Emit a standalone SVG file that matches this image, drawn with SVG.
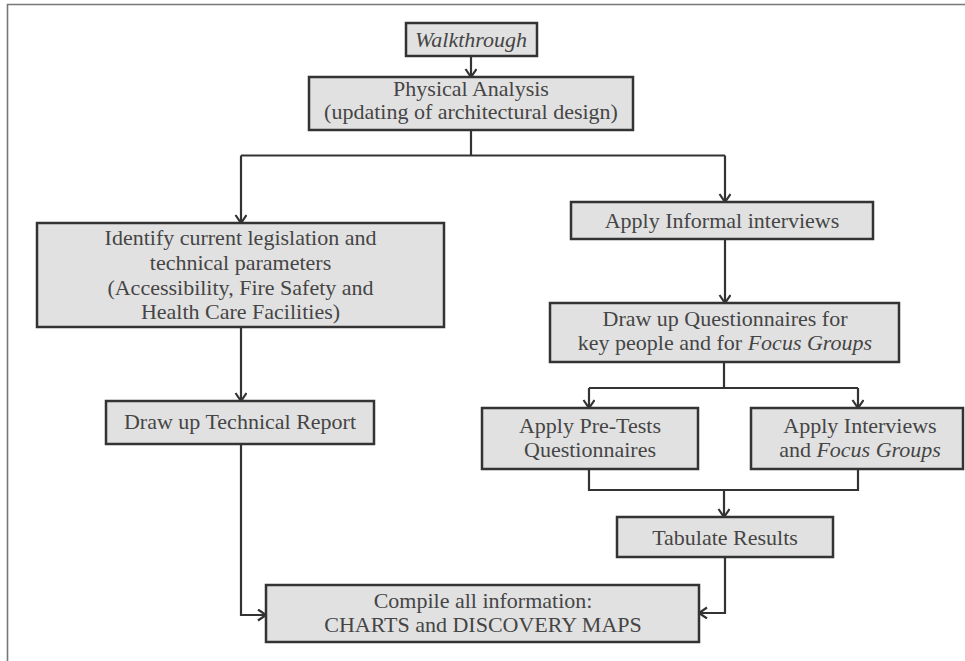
<svg xmlns="http://www.w3.org/2000/svg" width="965" height="661" viewBox="0 0 965 661">
<style>
.box{fill:#e1e1e1;stroke:#333;stroke-width:2.5}
.t{font-family:"Liberation Serif","Times New Roman",serif;font-size:22px;fill:#454545;text-anchor:middle}
.i{font-style:italic}
.c{fill:none;stroke:#333;stroke-width:2.2}
.frame{fill:none;stroke:#777;stroke-width:1.6}
</style>
<defs>
<marker id="ah" markerUnits="userSpaceOnUse" markerWidth="14" markerHeight="14" refX="10" refY="6" orient="auto">
<path d="M2,0.5 L10,6 L2,11.5" fill="none" stroke="#333" stroke-width="2.2"/>
</marker>
</defs>
<rect width="965" height="661" fill="#fff"/>
<path class="frame" d="M7.5,661 V4.5 H965"/>

<g id="connectors">
<path class="c" d="M471,56 V77" marker-end="url(#ah)"/>
<path class="c" d="M471,130 V155.5"/>
<path class="c" d="M241,155.5 H725"/>
<path class="c" d="M241,155.5 V223" marker-end="url(#ah)"/>
<path class="c" d="M725,155.5 V202" marker-end="url(#ah)"/>
<path class="c" d="M241,327 V401" marker-end="url(#ah)"/>
<path class="c" d="M241,444 V615 H266" marker-end="url(#ah)"/>
<path class="c" d="M725,239 V303" marker-end="url(#ah)"/>
<path class="c" d="M724,362 V388"/>
<path class="c" d="M589,388 H858"/>
<path class="c" d="M589,388 V408" marker-end="url(#ah)"/>
<path class="c" d="M858,388 V408" marker-end="url(#ah)"/>
<path class="c" d="M589,469 V490 H858 V469"/>
<path class="c" d="M724,490 V517" marker-end="url(#ah)"/>
<path class="c" d="M725,557 V613 H699" marker-end="url(#ah)"/>
</g>

<g id="walkthrough">
<rect class="box" x="406" y="23" width="131" height="33"/>
<text class="t i" x="471" y="47">Walkthrough</text>
</g>

<g id="physical">
<rect class="box" x="309" y="77" width="324" height="53"/>
<text class="t" x="471" y="96">Physical Analysis</text>
<text class="t" x="471" y="119">(updating of architectural design)</text>
</g>

<g id="identify">
<rect class="box" x="37" y="223" width="407" height="104"/>
<text class="t" x="240.5" y="245">Identify current legislation and</text>
<text class="t" x="240.5" y="270">technical parameters</text>
<text class="t" x="240.5" y="295">(Accessibility, Fire Safety and</text>
<text class="t" x="240.5" y="319">Health Care Facilities)</text>
</g>

<g id="techreport">
<rect class="box" x="106" y="401" width="268" height="43"/>
<text class="t" x="240" y="429">Draw up Technical Report</text>
</g>

<g id="informal">
<rect class="box" x="571" y="202" width="302" height="37"/>
<text class="t" x="722" y="228">Apply Informal interviews</text>
</g>

<g id="questionnaires">
<rect class="box" x="550" y="303" width="349" height="59"/>
<text class="t" x="725" y="326">Draw up Questionnaires for</text>
<text class="t" x="725" y="350">key people and for <tspan class="i">Focus Groups</tspan></text>
</g>

<g id="pretests">
<rect class="box" x="482" y="408" width="216" height="61"/>
<text class="t" x="590" y="433">Apply Pre-Tests</text>
<text class="t" x="590" y="457">Questionnaires</text>
</g>

<g id="interviews">
<rect class="box" x="751" y="408" width="212" height="61"/>
<text class="t" x="860" y="433">Apply Interviews</text>
<text class="t" x="860" y="457">and <tspan class="i">Focus Groups</tspan></text>
</g>

<g id="tabulate">
<rect class="box" x="617" y="517" width="216" height="40"/>
<text class="t" x="725" y="545">Tabulate Results</text>
</g>

<g id="compile">
<rect class="box" x="266" y="585" width="433" height="57"/>
<text class="t" x="483" y="608">Compile all information:</text>
<text class="t" x="483" y="632">CHARTS and DISCOVERY MAPS</text>
</g>
</svg>
